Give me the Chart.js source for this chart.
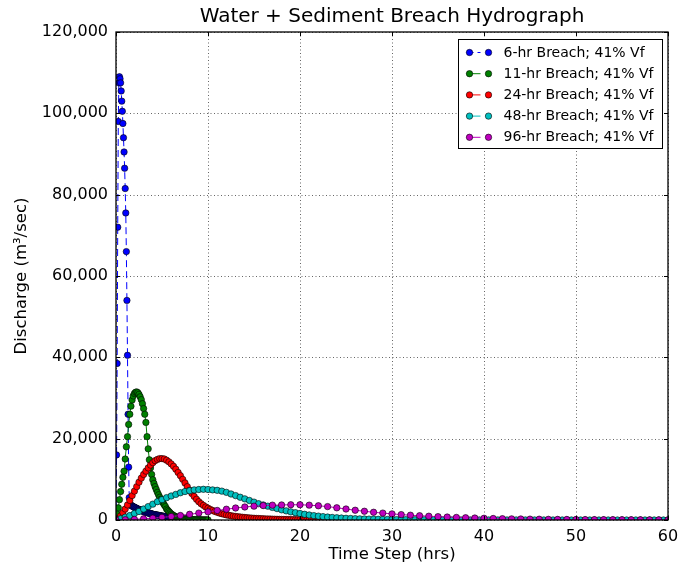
<!DOCTYPE html>
<html>
<head>
<meta charset="utf-8">
<script src="https://cdn.jsdelivr.net/npm/chart.js@4/dist/chart.umd.min.js"></script>
<style>
html,body{margin:0;padding:0;background:#fff;}
canvas{display:block;}
</style>
</head>
<body>
<canvas id="c" width="689" height="569"></canvas>
<script>
// ---------- data ----------
const chartTitle = 'Water + Sediment Breach Hydrograph';
const xTitle = 'Time Step (hrs)';
const yTitle = 'Discharge (m\u00B3/sec)';
const seriesNames = ['6-hr Breach; 41% Vf', '11-hr Breach; 41% Vf', '24-hr Breach; 41% Vf', '48-hr Breach; 41% Vf', '96-hr Breach; 41% Vf'];
const seriesColors = ['#0000ff', '#008000', '#ff0000', '#00bfbf', '#bf00bf'];
// time step (hrs) between consecutive values of each series
const seriesStepHrs = [0.0625, 0.125, 0.25, 0.5, 1];
const xTicks = [0, 10, 20, 30, 40, 50, 60];
const yTicks = [0, 20000, 40000, 60000, 80000, 100000, 120000];

// discharge (m3/sec)
const q6hr = [
  0,16000,38500,72000,98000,107500,109000,108500,107500,105500,103000,100500,97500,94000,90500,86500,
  81500,75500,66000,54000,40500,26000,13000,5500,3800,3700,3600,3550,3450,3350,3300,3200,
  3150,3050,3000,2900,2850,2750,2700,2650,2600,2500,2450,2400,2350,2300,2250,2150,
  2100,2050,2000,1950,1900,1900,1850,1800,1750,1700,1650,1600,1600,1550,1500,1450,
  1400,1350,1350,1300,1300,1250,1250,1200,1200,1150,1150,1100,1050,1050,1000,1000,
  950,950,900,900,850,850,850,800,800,800,750,750,750,700,700,700,
  650,650,650,600,600,600,550,550,550,550,500,500,500,500,450,450,
  450,450,400,400,400,400,400,400,350,350,350,350,350,350,300,300,
  300
];
const q11hr = [
  0,1500,3000,5000,7000,8800,10500,12000,
  15000,18000,20500,23500,26000,28000,29500,30500,
  31100,31400,31500,31300,30900,30300,29600,28600,
  27400,26000,24000,20500,17500,14800,12800,11200,
  9900,9000,8200,7500,6800,6200,5600,5100,
  4600,4200,3700,3300,2700,2400,2100,1800,
  1500,1300,1100,950,800,700,600,520,
  450,400,350,300,260,230,200,170,
  150,130,115,100,90,80,70,60,
  50,45,40,35,30,27,24,21,
  18
];
const q24hr = [
  0,400,1000,1800,2700,3700,4800,6000,
  7100,8200,9300,10300,11200,12000,12800,13500,
  14100,14600,14900,15100,15100,15000,14700,14300,
  13800,13200,12500,11700,10900,10000,9100,8200,
  7300,6500,5800,5100,4500,4000,3600,3200,
  2900,2600,2350,2100,1900,1700,1550,1400,
  1250,1150,1050,950,870,800,730,670,
  610,560,510,470,430,390,360,330,
  300,270,250,230,210,190,170,155,
  140,130,120,110,100,90,80,75,
  70,60,55,50,45,40,36,32,
  29
];
const q48hr = [
  0,300,700,1100,1600,2100,2700,3300,3900,4500,
  5000,5500,5900,6300,6700,7000,7200,7400,7500,7550,
  7500,7400,7300,7100,6800,6400,6000,5600,5200,4800,
  4400,4000,3700,3400,3100,2800,2500,2250,2000,1800,
  1600,1400,1230,1080,950,830,720,630,550,480,
  420,370,320,280,250,220,190,170,150,130,
  115,100,90,80,70,62,55,50,45,40,
  36,32,29,26,23,21,19,17,15,14,
  12,11,10,9,8,7,6,6,5,5,
  4,4,3,3,3,2,2,2,2,2,
  1,1,1,1,1,1,1,1,1,1,
  1,1,1,1,0,0,0,0,0,0,
  0
];
const q96hr = [
  0,50,150,300,450,650,850,1100,1400,1700,
  2000,2350,2650,2950,3200,3400,3550,3650,3700,3750,
  3750,3650,3500,3300,3000,2700,2400,2150,1900,1700,
  1500,1330,1180,1050,930,820,720,630,550,480,
  420,370,320,280,245,215,190,165,145,125,
  110,95,85,75,65,57,50,44,38,33,
  29
];
const seriesValues = [q6hr, q11hr, q24hr, q48hr, q96hr];

// ---------- chart ----------
const FONT = 'DejaVu Sans';

function toPoints(values, step) {
  return values.map((v, i) => ({ x: i * step, y: v }));
}

const datasets = seriesValues.map((vals, k) => ({
  label: seriesNames[k],
  data: toPoints(vals, seriesStepHrs[k]),
  borderColor: seriesColors[k],
  backgroundColor: seriesColors[k],
  borderWidth: 1,
  borderDash: k === 0 ? [7, 4] : [],
  pointRadius: 3.2,
  pointBorderWidth: 0.6,
  pointBorderColor: '#000',
  pointBackgroundColor: seriesColors[k],
  tension: 0,
  fill: false,
  order: seriesValues.length - k
}));

const framePlugin = {
  id: 'frame',
  beforeDatasetsDraw(chart) {
    const { ctx, chartArea: a, scales: { x, y } } = chart;
    ctx.save();
    // title centred over the plot area
    ctx.fillStyle = '#000';
    ctx.font = '20px "' + FONT + '"';
    ctx.textAlign = 'center';
    ctx.textBaseline = 'middle';
    ctx.fillText(chartTitle, (a.left + a.right) / 2, 17);
    // dotted grid
    ctx.strokeStyle = 'rgba(0,0,0,0.6)';
    ctx.lineWidth = 1;
    ctx.setLineDash([1, 2.5]);
    xTicks.forEach(v => {
      const px = Math.round(x.getPixelForValue(v)) + 0.5;
      ctx.beginPath(); ctx.moveTo(px, a.top); ctx.lineTo(px, a.bottom); ctx.stroke();
    });
    yTicks.forEach(v => {
      const py = Math.round(y.getPixelForValue(v)) + 0.5;
      ctx.beginPath(); ctx.moveTo(a.left, py); ctx.lineTo(a.right, py); ctx.stroke();
    });
    ctx.restore();
  },
  afterDatasetsDraw(chart) {
    const { ctx, chartArea: a, scales: { x, y } } = chart;
    ctx.save();
    // inward ticks
    ctx.strokeStyle = '#000';
    ctx.lineWidth = 1;
    ctx.setLineDash([]);
    const TL = 4;
    xTicks.forEach(v => {
      const px = Math.round(x.getPixelForValue(v)) + 0.5;
      ctx.beginPath();
      ctx.moveTo(px, a.bottom); ctx.lineTo(px, a.bottom - TL);
      ctx.moveTo(px, a.top); ctx.lineTo(px, a.top + TL);
      ctx.stroke();
    });
    yTicks.forEach(v => {
      const py = Math.round(y.getPixelForValue(v)) + 0.5;
      ctx.beginPath();
      ctx.moveTo(a.left, py); ctx.lineTo(a.left + TL, py);
      ctx.moveTo(a.right, py); ctx.lineTo(a.right - TL, py);
      ctx.stroke();
    });
    // spines
    ctx.lineWidth = 1.3;
    ctx.strokeRect(a.left, a.top, a.right - a.left, a.bottom - a.top);

    // legend
    const w = 204, h = 109;
    const x0 = Math.round(a.right - 6 - w) + 0.5;
    const y0 = Math.round(a.top + 7) + 0.5;
    ctx.fillStyle = '#fff';
    ctx.fillRect(x0, y0, w, h);
    ctx.lineWidth = 1;
    ctx.strokeStyle = '#000';
    ctx.strokeRect(x0, y0, w, h);
    ctx.font = '14px "' + FONT + '"';
    ctx.textBaseline = 'middle';
    ctx.textAlign = 'left';
    chart.data.datasets.forEach((ds, i) => {
      const cy = y0 + 13 + i * 21.2;
      ctx.strokeStyle = ds.borderColor;
      ctx.lineWidth = 1;
      ctx.setLineDash(ds.borderDash || []);
      ctx.beginPath(); ctx.moveTo(x0 + 8, cy); ctx.lineTo(x0 + 22, cy); ctx.stroke();
      ctx.setLineDash([]);
      [x0 + 11, x0 + 30].forEach(cx => {
        ctx.beginPath();
        ctx.arc(cx, cy, 3.2, 0, Math.PI * 2);
        ctx.fillStyle = ds.pointBackgroundColor;
        ctx.fill();
        ctx.lineWidth = 0.6;
        ctx.strokeStyle = '#000';
        ctx.stroke();
      });
      ctx.fillStyle = '#000';
      ctx.fillText(ds.label, x0 + 45, cy + 0.5);
    });
    ctx.restore();
  }
};

new Chart(document.getElementById('c').getContext('2d'), {
  type: 'line',
  data: { datasets },
  plugins: [framePlugin],
  options: {
    responsive: false,
    animation: false,
    devicePixelRatio: 1,
    layout: { padding: { left: 0, right: 21, top: 32, bottom: 0 } },
    plugins: {
      legend: { display: false },
      tooltip: { enabled: false },
      title: { display: false }
    },
    scales: {
      x: {
        type: 'linear',
        min: 0, max: 60,
        afterBuildTicks: s => { s.ticks = xTicks.map(v => ({ value: v })); },
        ticks: { color: '#000', font: { family: FONT, size: 16 }, padding: 7, maxRotation: 0,
                 callback: v => String(v) },
        grid: { display: false, drawTicks: false },
        border: { display: false },
        title: { display: true, text: xTitle, color: '#000',
                 font: { family: FONT, size: 16.5, lineHeight: 1.2 }, padding: { top: 0, bottom: 4 } },
        afterFit: s => { s.height = 49; }
      },
      y: {
        type: 'linear',
        min: 0, max: 120000,
        afterBuildTicks: s => { s.ticks = yTicks.map(v => ({ value: v })); },
        ticks: { color: '#000', font: { family: FONT, size: 16 }, padding: 8,
                 callback: v => Number(v).toLocaleString('en-US') },
        grid: { display: false, drawTicks: false },
        border: { display: false },
        title: { display: true, text: yTitle, color: '#000',
                 font: { family: FONT, size: 16.5, lineHeight: 1.2 }, padding: { top: 12, bottom: 0 } },
        afterFit: s => { s.width = 116; }
      }
    }
  }
});
</script>
</body>
</html>
